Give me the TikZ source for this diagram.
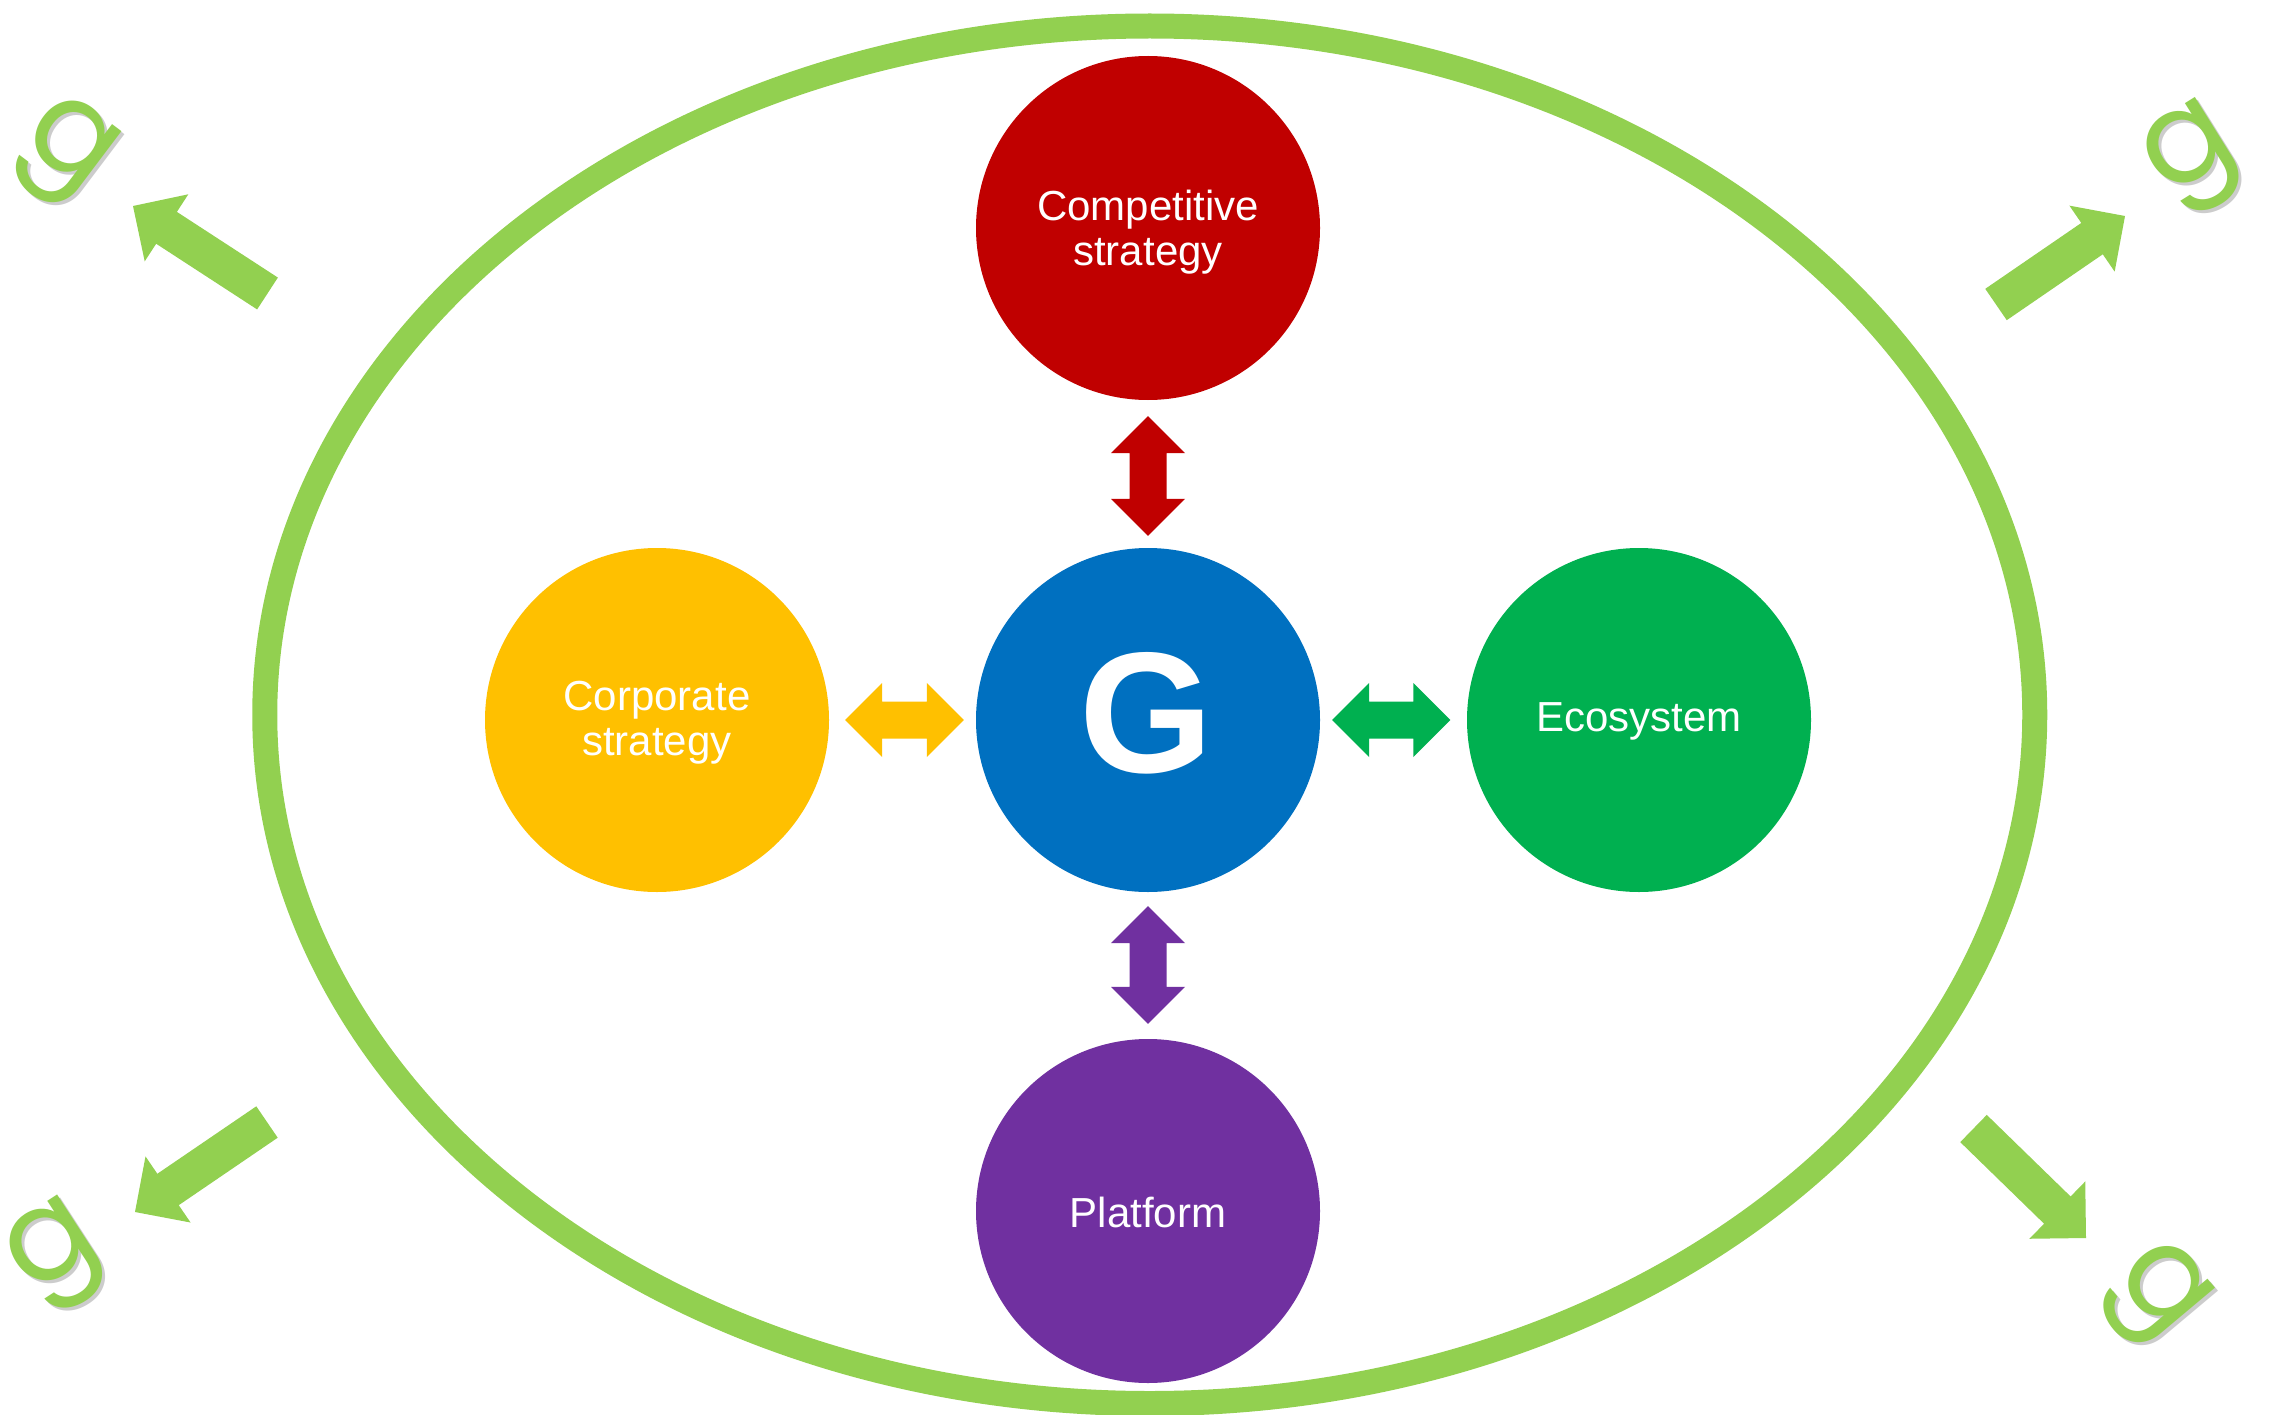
\documentclass[tikz,border=0pt]{standalone}
\usepackage{fontspec}
\setmainfont{Liberation Sans}
\newfontfamily\gfont{Poppins}
\usetikzlibrary{calc}
\definecolor{lgreen}{HTML}{92D050}
\definecolor{cred}{HTML}{C00000}
\definecolor{cgold}{HTML}{FFC000}
\definecolor{cblue}{HTML}{0070C0}
\definecolor{cgreen}{HTML}{00B050}
\definecolor{cpurple}{HTML}{7030A0}
\tikzset{
  bubble/.style={circle, minimum size=344pt, inner sep=0pt, fill=#1},
  bubtext/.style={inner sep=0pt, text=white, align=center,
    font=\fontsize{42}{45}\selectfont},
  gletter/.style={inner sep=0pt, text=lgreen, font=\gfont\fontsize{128}{128}\selectfont},
  gshadow/.style={inner sep=0pt, text=black, opacity=0.2, font=\gfont\fontsize{128}{128}\selectfont},
}
% double block arrow: colour, end A, end B
\newcommand{\dblarrow}[3]{%
  \fill[#1] (#2)
    -- ($(#2)!37pt!(#3)!37pt!90:(#3)$)
    -- ($(#2)!37pt!(#3)!18.5pt!90:(#3)$)
    -- ($(#3)!37pt!(#2)!18.5pt!-90:(#2)$)
    -- ($(#3)!37pt!(#2)!37pt!-90:(#2)$)
    -- (#3)
    -- ($(#3)!37pt!(#2)!37pt!90:(#2)$)
    -- ($(#3)!37pt!(#2)!18.5pt!90:(#2)$)
    -- ($(#2)!37pt!(#3)!18.5pt!-90:(#3)$)
    -- ($(#2)!37pt!(#3)!37pt!-90:(#3)$)
    -- cycle;}
% single block arrow: tail S, tip T
\newcommand{\blkarrow}[2]{%
  \fill[lgreen] ($(#1)!19pt!90:(#2)$)
    -- ($(#2)!40pt!(#1)!19pt!-90:(#1)$)
    -- ($(#2)!40pt!(#1)!40pt!-90:(#1)$)
    -- (#2)
    -- ($(#2)!40pt!(#1)!40pt!90:(#1)$)
    -- ($(#2)!40pt!(#1)!19pt!90:(#1)$)
    -- ($(#1)!19pt!-90:(#2)$)
    -- cycle;}
\begin{document}
\begin{tikzpicture}[x=1pt,y=-1pt]
\useasboundingbox (0,0) rectangle (2270,1415);
\fill[white] (0,0) rectangle (2270,1415);

% outer ellipse
\draw[lgreen, line width=25pt] (1149.75,714.75) ellipse [x radius=885, y radius=688.75];

% circles
\node[bubble=cblue] (G) at (1148,720) {};
\node[bubble=cred] (comp) at (1148,228) {};
\node[bubble=cpurple] (plat) at (1148,1211) {};
\node[bubble=cgold] (corp) at (657,720) {};
\node[bubble=cgreen] (eco) at (1639,720) {};
\node[bubtext] (compt) at ($(comp.center)+(0,4)$) {Competitive\\strategy};
\node[bubtext] (platt) at ($(plat.center)+(0,1)$) {Platform};
\node[bubtext] (corpt) at ($(corp.center)+(0,3)$) {Corporate\\strategy};
\node[bubtext] (ecot) at ($(eco.center)+(0,1)$) {Ecosystem};
\node[inner sep=0pt, text=white, font=\bfseries\fontsize{172}{172}\selectfont] (Gl) at (1146,713) {G};

% double arrows
\coordinate (ra) at ($(comp.south)!16pt!(G.north)$);
\coordinate (rb) at ($(G.north)!12pt!(comp.south)$);
\coordinate (pa) at ($(G.south)!14pt!(plat.north)$);
\coordinate (pb) at ($(plat.north)!15pt!(G.south)$);
\coordinate (oa) at ($(corp.east)!16pt!(G.west)$);
\coordinate (ob) at ($(G.west)!12pt!(corp.east)$);
\coordinate (ga) at ($(G.east)!12pt!(eco.west)$);
\coordinate (gb) at ($(eco.west)!16.5pt!(G.east)$);
\dblarrow{cred}{ra}{rb}
\dblarrow{cpurple}{pa}{pb}
\dblarrow{cgold}{oa}{ob}
\dblarrow{cgreen}{ga}{gb}

% corner g letters with shadows
\node[gshadow, rotate=-37] at (67,156) {g};
\node[gletter, rotate=-37] (gtl) at (64,153) {g};
\node[gshadow, rotate=32] at (2197,162) {g};
\node[gletter, rotate=32] (gtr) at (2194,159) {g};
\node[gshadow, rotate=33] at (61,1260) {g};
\node[gletter, rotate=33] (gbl) at (58,1257) {g};
\node[gshadow, rotate=-50] at (2157,1299) {g};
\node[gletter, rotate=-50] (gbr) at (2154,1296) {g};

% corner arrows
\coordinate (tlS) at (267.5,293.5); \coordinate (tlT) at (133,206);
\coordinate (trS) at (1996,304.5);  \coordinate (trT) at (2125,216);
\coordinate (blS) at (267,1122);    \coordinate (blT) at (135,1212);
\coordinate (brS) at (1973.5,1128.5); \coordinate (brT) at (2086,1238);
\blkarrow{tlS}{tlT}
\blkarrow{trS}{trT}
\blkarrow{blS}{blT}
\blkarrow{brS}{brT}
\end{tikzpicture}
\end{document}
